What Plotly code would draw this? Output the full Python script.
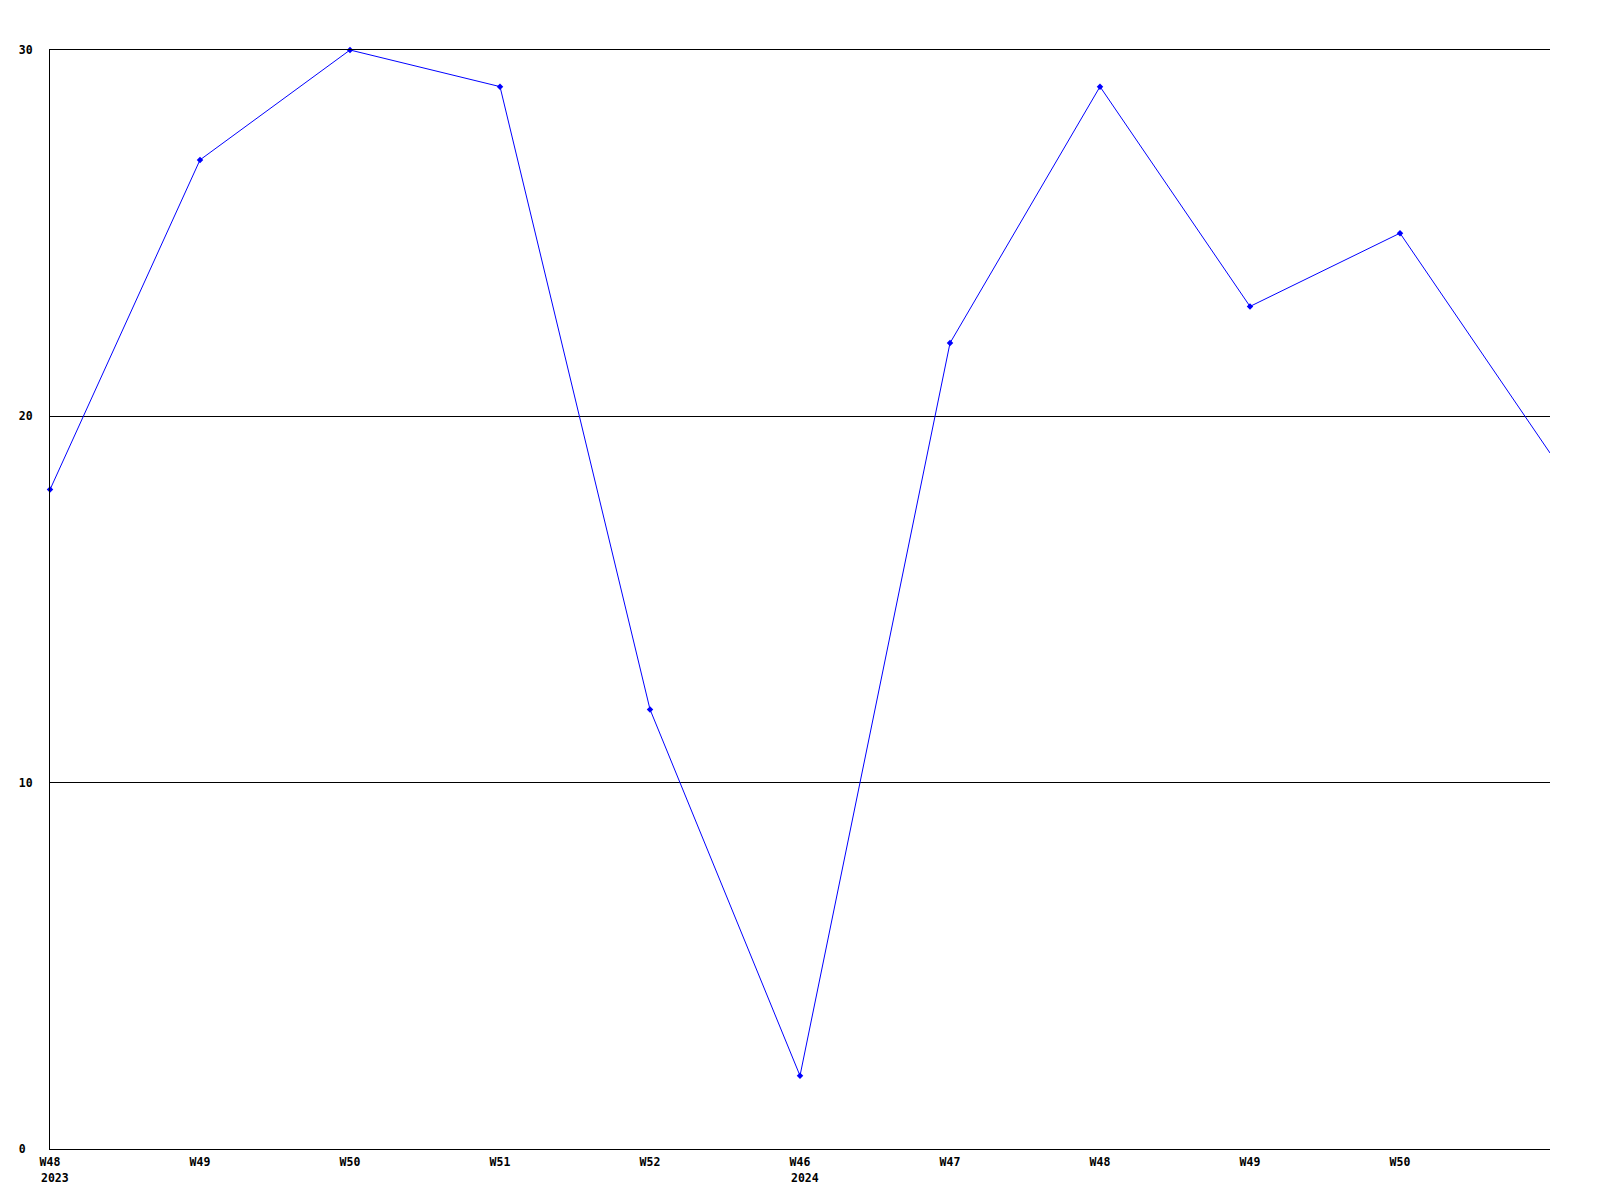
import plotly.graph_objects as go

weeks = ["W48", "W49", "W50", "W51", "W52", "W46", "W47", "W48", "W49", "W50", ""]
years = {0: "2023", 5: "2024"}
values = [18, 27, 30, 29, 12, 2, 22, 29, 23, 25, 19]
y_ticks = [0, 10, 20, 30]

x = list(range(len(values)))

fig = go.Figure()
fig.add_trace(go.Scatter(
    x=x, y=values, mode="lines",
    line=dict(color="#0000ff", width=1),
    hoverinfo="skip", showlegend=False, cliponaxis=False,
))
fig.add_trace(go.Scatter(
    x=x[:-1], y=values[:-1], mode="markers",
    marker=dict(color="#0000ff", size=5, symbol="diamond"),
    hoverinfo="skip", showlegend=False, cliponaxis=False,
))

font = dict(family="DejaVu Sans Mono", size=11.5, color="black")
for i, yr in years.items():
    fig.add_annotation(
        x=i, y=0, xref="x", yref="paper", text="<b>%s</b>" % yr,
        showarrow=False, xanchor="left", yanchor="top",
        xshift=-11, yshift=-20, font=font,
    )

# y labels are left-aligned in the reference: pad to equal width (monospace)
width = max(len(str(v)) for v in y_ticks)
y_text = ["<b>%s</b>" % (str(v) + "&nbsp;" * (width - len(str(v)))) for v in y_ticks]

fig.update_layout(
    width=1600, height=1200,
    margin=dict(l=42, r=58, t=42, b=59),
    paper_bgcolor="white", plot_bgcolor="white",
    font=font,
    xaxis=dict(
        range=[0, 10], tickmode="array",
        tickvals=x[:-1], ticktext=["<b>%s</b>" % w for w in weeks[:-1]],
        showgrid=False, zeroline=False, showline=True, mirror=True,
        linecolor="black", linewidth=1, ticks="", ticklabelstandoff=2,
    ),
    yaxis=dict(
        range=[0, 30], tickmode="array", tickvals=y_ticks,
        ticktext=y_text,
        showgrid=True, gridcolor="black", gridwidth=1,
        zeroline=False, showline=True, linecolor="black", linewidth=1,
        ticks="", ticklabelstandoff=14,
    ),
)

fig.write_html("out.html")
